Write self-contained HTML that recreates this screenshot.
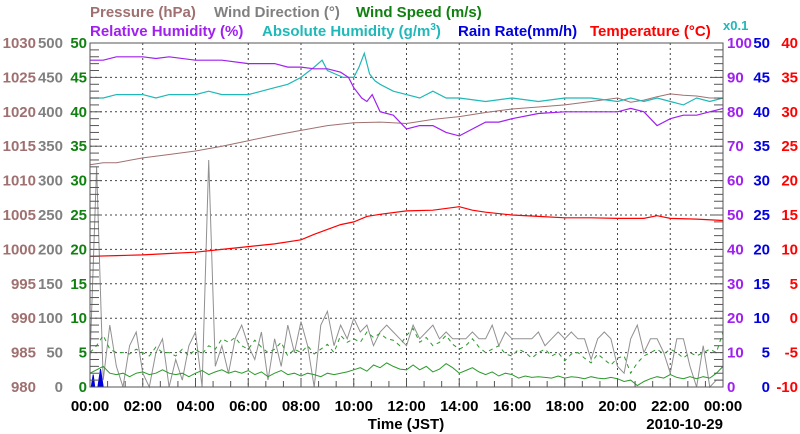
<!DOCTYPE html>
<html><head><meta charset="utf-8"><style>
html,body{margin:0;padding:0;background:#fff;}
svg{display:block;font-family:"Liberation Sans",sans-serif;font-weight:bold;}
</style></head><body>
<svg id="c" width="800" height="434" viewBox="0 0 800 434">
<g font-size="15">
<text x="90" y="17" fill="#a07070">Pressure (hPa)</text>
<text x="214" y="17" fill="#808080">Wind Direction (°)</text>
<text x="356" y="17" fill="#108010">Wind Speed (m/s)</text>
</g>
<g font-size="15">
<text x="90" y="36" fill="#a020f0">Relative Humidity (%)</text>
<text x="262" y="36" fill="#20b8b8">Absolute Humidity (g/m<tspan font-size="10" dy="-6">3</tspan><tspan dy="6">)</tspan></text>
<text x="458" y="36" fill="#0000e0">Rain Rate(mm/h)</text>
<text x="590" y="36" fill="#ff0000">Temperature (°C)</text>
<text x="723" y="30" fill="#20b8b8" font-size="13">x0.1</text>
</g>
<g id="grid"></g>
<g id="series"></g>
<g id="axes"></g>
</svg>
<script>
const hours=[0,2,4,6,8,10,12,14,16,18,20,22,24];
const xTickLabels=["00:00","02:00","04:00","06:00","08:00","10:00","12:00","14:00","16:00","18:00","20:00","22:00","00:00"];
const pressureTicks=[1030,1025,1020,1015,1010,1005,1000,995,990,985,980];
const windDirTicks=[500,450,400,350,300,250,200,150,100,50,0];
const windSpeedTicks=[50,45,40,35,30,25,20,15,10,5,0];
const humidityTicks=[100,90,80,70,60,50,40,30,20,10,0];
const rainTicks=[50,45,40,35,30,25,20,15,10,5,0];
const tempTicks=[40,35,30,25,20,15,10,5,0,-5,-10];

const pTimes=[0,0.5,1,2,3,4,5,6,7,8,9,10,11,12,13,14,15,16,17,18,19,20,20.5,21,21.5,22,22.5,23,23.5,24];
const pressure=[1012.3,1012.6,1012.6,1013.3,1013.8,1014.3,1015.0,1015.8,1016.6,1017.3,1018.0,1018.4,1018.5,1018.3,1018.9,1019.3,1019.9,1020.4,1020.7,1021.0,1021.5,1022.0,1021.4,1021.7,1022.2,1022.6,1022.4,1022.3,1022.0,1022.0];

const rhTimes=[0,0.5,1,2,2.5,3,4,5,6,7,7.5,8,8.5,9,9.5,9.8,10,10.3,10.5,10.7,11,11.5,12,12.5,13,13.5,14,14.5,15,15.5,16,17,18,19,20,20.5,21,21.5,22,22.5,23,23.5,24];
const rh=[95,95,96,96,95.5,96,95,95,94,94,93,93,92.5,92.5,91.5,90,87,84,83,85,80,79,75,76,76,74,73,75,77,77,78,79.5,80,80,80,81,80,76,78,79,79,80,81];

const ahTimes=[0,0.5,1,2,2.5,3,4,4.5,5,6,6.5,7,7.5,8,8.5,8.8,9,9.3,9.6,10,10.2,10.4,10.6,10.8,11,11.5,12,12.5,13,13.5,14,15,16,17,18,19,20,20.5,21,21.5,22,22.5,23,23.5,24];
const absHum=[84,84,85,85,84,85,85,86,85,85,86,87,88,90,93,95,92,91,90,90,93,97,91,89,88,86,85,84,86,84,84,83,84,83,84,84,83,84,83,84,83,82,84,83,84];

const tTimes=[0,1,2,3,4,5,6,7,8,8.5,9,9.5,10,10.5,11,12,13,14,14.5,15,16,17,18,19,20,21,21.5,22,23,24];
const temperature=[9.0,9.1,9.2,9.4,9.6,10.0,10.4,10.8,11.4,12.2,12.9,13.6,14.0,14.8,15.1,15.6,15.7,16.2,15.7,15.4,15.0,14.8,14.6,14.6,14.5,14.5,14.9,14.5,14.4,14.2];

const windDir=[40,320,10,90,30,0,60,80,20,0,50,70,0,40,10,60,80,0,330,30,60,20,70,90,60,40,80,10,70,30,90,50,95,60,0,90,110,60,90,70,100,80,90,60,80,90,80,70,60,90,70,80,90,70,80,70,70,70,80,70,70,90,60,80,70,70,70,70,80,60,70,80,70,80,70,70,40,70,80,70,30,20,70,90,50,70,70,50,20,70,70,30,0,60,0,10,10];
const windAvg=[2,2.5,3,2,1.8,2,1.5,2,2.2,1.8,2,2.5,2,1.8,2,1.5,2,2.4,1.8,2.2,2.5,2,2.3,2,2.4,1.8,2.2,1.5,2,2.4,1.8,2,1.6,2,1.8,1.5,2,1.8,2,2.2,2.5,2.8,2.3,3.2,2.8,3.5,3,2.6,2.5,3.2,2.5,3,2.2,2.6,3.4,2.8,2,2.4,2.8,2.2,1.8,2.2,1.6,2,1.8,1.3,1.6,1.4,1.5,1.4,1.3,1.6,1.3,1.5,1.4,1.2,1.5,1.3,1.2,1.4,1.2,0.8,1.0,0.2,0.8,1.2,1.5,1.3,1.8,1.4,1.2,1.5,1.2,1.5,1.3,2.0,3.0];
const windGust=[5,6,7.5,5.5,5,5,4.8,5.5,5,4.5,5.8,5,5,4.5,5.5,4.5,5.5,4.8,6,5.5,7,6.5,7.2,6,5.5,6.8,5.8,5,5.5,6.5,4.5,5.5,5,6,4.8,5.5,6.2,5,7.5,6.5,7,6.5,8,7.2,7.8,7,6.8,6,7.5,8.5,6.5,7.2,6,6.5,7.5,6.2,5.5,6,7,5.8,5,5.5,6,4.8,4.5,5.5,5,4.2,5,5.5,4.5,5,3.8,4.8,5,4.2,3.5,4.8,4,3.2,4.2,4.5,2,3.5,4.5,5,5.5,4.8,5.5,5,4.2,5,4.5,5,5.5,5,8];
const rainTimes=[0,0.05,0.12,0.18,0.3,0.4,0.5,0.6,24];
const rain=[0,0,1.8,0,0,2.6,0,0,0];

const L=90,R=723,T=43,B=387;
const xs=h=>L+(R-L)*h/24;
const yP=v=>B-(v-980)/50*(B-T);
const yWD=v=>B-v/500*(B-T);
const yWS=v=>B-v/50*(B-T);
const yH=v=>B-v/100*(B-T);
const yRain=v=>B-v/50*(B-T);
const yT=v=>B-(v+10)/50*(B-T);
const NS="http://www.w3.org/2000/svg";
function mk(tag,attrs,parent){const e=document.createElementNS(NS,tag);for(const k in attrs)e.setAttribute(k,attrs[k]);parent.appendChild(e);return e;}
const grid=document.getElementById('grid'),ser=document.getElementById('series'),ax=document.getElementById('axes');

for(let i=1;i<hours.length-1;i++){
  const g=mk('line',{x1:xs(hours[i]),x2:xs(hours[i]),y1:T,y2:B,stroke:'#444','stroke-width':1,'stroke-dasharray':'2,3'},grid);
  
  
}
for(let i=1;i<pressureTicks.length-1;i++){
  const y=yP(pressureTicks[i]);
  const g=mk('line',{x1:L,x2:R,y1:y,y2:y,stroke:'#444','stroke-width':1,'stroke-dasharray':'2,3'},grid);
  
  
}

function path(times,vals,yf,attrs,name){
  let d='';for(let i=0;i<vals.length;i++)d+=(i?'L':'M')+xs(times[i]).toFixed(1)+','+yf(vals[i]).toFixed(1);
  const p=mk('path',Object.assign({d:d,fill:'none'},attrs),ser);
  
  
  return p;
}
const q=windDir.map((_,i)=>i*0.25);
path(q,windDir,yWD,{stroke:'#909090','stroke-width':1},'wind-direction-line');
path(q,windGust,yWS,{stroke:'#2a9a2a','stroke-width':1,'stroke-dasharray':'4,4'},'wind-gust-line');
path(q,windAvg,yWS,{stroke:'#2a9a2a','stroke-width':1},'wind-speed-line');
const rp=path(rainTimes,rain,yRain,{stroke:'#0000e0','stroke-width':1},'rain-rate-line');
rp.setAttribute('fill','#0000e0');
path(pTimes,pressure,yP,{stroke:'#a07070','stroke-width':1},'pressure-line');
path(ahTimes,absHum,yH,{stroke:'#20b8b8','stroke-width':1.2},'absolute-humidity-line');
path(rhTimes,rh,yH,{stroke:'#a020f0','stroke-width':1.2},'relative-humidity-line');
path(tTimes,temperature,yT,{stroke:'#ff0000','stroke-width':1.2},'temperature-line');

const fr=mk('rect',{x:L,y:T,width:R-L,height:B-T,fill:'none',stroke:'#555','stroke-width':1},ax);


const step=(B-T)/10;
for(let i=0;i<=50;i++){
  const y=T+i*step/5, len=(i%5===0)?12:9;
  const a=mk('line',{x1:L,x2:L+len,y1:y,y2:y,stroke:'#555'},ax);
  
  
  const b=mk('line',{x1:R-len,x2:R,y1:y,y2:y,stroke:'#555'},ax);
  
  
}
for(let i=0;i<=36;i++){
  const x=L+i*(R-L)/36, len=(i%3===0)?8:6;
  const t=mk('line',{x1:x,x2:x,y1:B-len,y2:B,stroke:'#555'},ax);
  
  
}
function label(x,y,txt,color,anchor,name){
  const t=mk('text',{x:x,y:y,fill:color,'font-size':15,'text-anchor':anchor},ax);
  t.textContent=txt;
  
  
}
for(let i=0;i<pressureTicks.length;i++){
  const y=yP(pressureTicks[i])+5;
  label(36,y,pressureTicks[i],'#a07070','end','pressure-tick-label');
  label(63,y,windDirTicks[i],'#808080','end','wind-direction-tick-label');
  label(87,y,windSpeedTicks[i],'#108010','end','wind-speed-tick-label');
  label(727,y,humidityTicks[i],'#a020f0','start','humidity-tick-label');
  label(770,y,rainTicks[i],'#0000e0','end','rain-tick-label');
  label(798,y,tempTicks[i],'#ff0000','end','temperature-tick-label');
}
for(let i=0;i<hours.length;i++)label(xs(hours[i]),411,xTickLabels[i],'#000','middle','x-tick-label');
label(406,429,'Time (JST)','#000','middle','x-axis-title');
label(723,429,'2010-10-29','#000','end','date-label');
</script>
</body></html>
